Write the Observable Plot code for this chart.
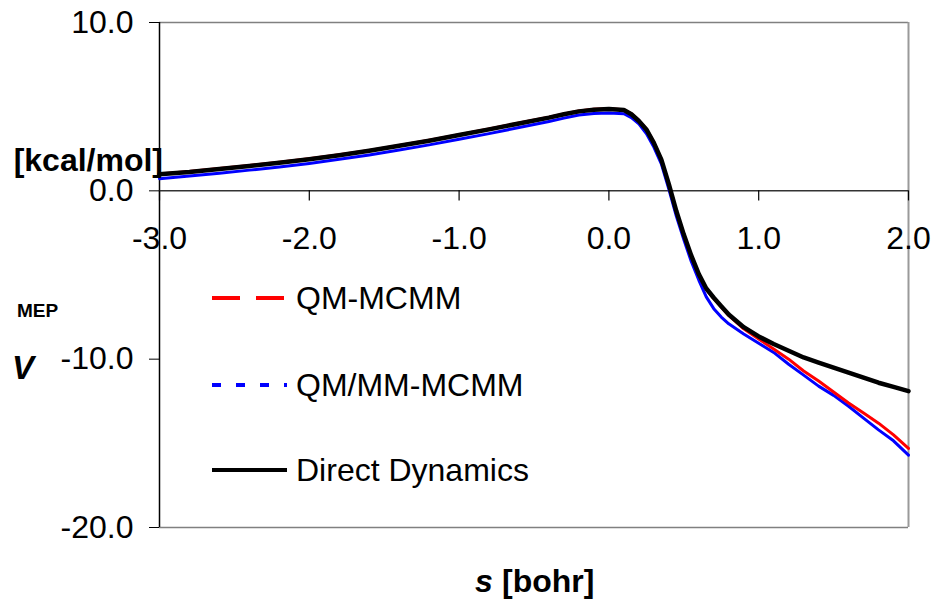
<!DOCTYPE html>
<html>
<head>
<meta charset="utf-8">
<script src="https://cdn.jsdelivr.net/npm/d3@7"></script>
<script src="https://cdn.jsdelivr.net/npm/@observablehq/plot@0.6"></script>
<style>
  html, body { margin: 0; padding: 0; background: #fff; }
  #chart { width: 935px; height: 600px; }
</style>
</head>
<body>
<div id="chart"></div>
<script>
// reaction coordinate s [bohr]
const sValues = [-3.0,-2.8,-2.6,-2.4,-2.2,-2.0,-1.8,-1.6,-1.4,-1.2,-1.0,-0.8,-0.6,-0.4,-0.3,-0.2,-0.1,0.0,0.1,0.15,0.2,0.25,0.3,0.35,0.4,0.45,0.5,0.55,0.6,0.65,0.7,0.75,0.8,0.9,1.0,1.1,1.2,1.3,1.4,1.5,1.6,1.7,1.8,1.9,2.0];
// V_MEP [kcal/mol]
const directDynamics = [0.98,1.12,1.30,1.48,1.67,1.88,2.12,2.38,2.68,2.98,3.32,3.65,4.00,4.35,4.55,4.72,4.82,4.86,4.80,4.55,4.15,3.65,2.85,1.85,0.40,-1.20,-2.60,-3.85,-4.95,-5.80,-6.35,-6.85,-7.35,-8.10,-8.65,-9.10,-9.50,-9.90,-10.20,-10.50,-10.80,-11.10,-11.40,-11.65,-11.90];
const qmMcmm = [1.00,1.15,1.32,1.50,1.70,1.90,2.15,2.40,2.70,3.01,3.34,3.67,4.03,4.37,4.57,4.74,4.84,4.87,4.82,4.58,4.18,3.68,2.88,1.85,0.38,-1.25,-2.65,-3.90,-5.00,-5.85,-6.40,-6.90,-7.40,-8.20,-8.80,-9.40,-10.00,-10.70,-11.30,-11.95,-12.60,-13.20,-13.80,-14.50,-15.30];
const qmmmMcmm = [0.72,0.88,1.05,1.23,1.42,1.63,1.87,2.13,2.43,2.73,3.07,3.40,3.76,4.12,4.32,4.50,4.60,4.63,4.58,4.35,3.98,3.40,2.60,1.60,0.10,-1.50,-2.90,-4.20,-5.30,-6.30,-7.00,-7.50,-7.90,-8.50,-9.05,-9.60,-10.30,-10.95,-11.60,-12.15,-12.80,-13.50,-14.20,-14.85,-15.70];

const xTicks = [-3, -2, -1, 0, 1, 2];
const yTicks = [-20, -10, 0, 10];

const series = [
  {name: "QM/MM-MCMM", values: qmmmMcmm, color: "#0000ff", width: 3},
  {name: "QM-MCMM", values: qmMcmm, color: "#ff0000", width: 3},
  {name: "Direct Dynamics", values: directDynamics, color: "#000000", width: 4.5}
];
const rows = series.flatMap(sr => sValues.map((s, i) => ({s, v: sr.values[i], name: sr.name})));

const font = "Liberation Sans, Arial, Helvetica, sans-serif";
const fs = 32;

const chart = Plot.plot({
  width: 935,
  height: 600,
  marginLeft: 159,
  marginRight: 27,
  marginTop: 22,
  marginBottom: 73,
  style: {fontFamily: font, fontSize: fs + "px", background: "#fff", color: "#000"},
  x: {domain: [-3, 2], axis: null},
  y: {domain: [-20, 10], axis: null},
  marks: [
    // frame
    Plot.ruleY([10, -20], {x1: -3, x2: 2, stroke: "#808080", strokeWidth: 1.5}),
    Plot.ruleX([2], {y1: -20, y2: 10, stroke: "#9a9a9a", strokeWidth: 2}),
    // y axis
    Plot.axisY({ticks: yTicks, tickSize: 10, tickPadding: 16, tickFormat: d => d.toFixed(1), fontSize: fs, label: null, stroke: "#000"}),
    Plot.ruleX([-3], {y1: -20, y2: 10, stroke: "#000", strokeWidth: 1.5}),
    // x axis at y = 0
    Plot.ruleY([0], {x1: -3, x2: 2, stroke: "#333", strokeWidth: 1.5}),
    Plot.ruleX(xTicks, {x: d => d, y1: 0, y2: -0.6, stroke: "#000", strokeWidth: 1.2}),
    Plot.text(xTicks, {x: d => d, y: 0, dy: 48, text: d => d.toFixed(1), fontSize: fs, fill: "#000"}),
    // data
    ...series.map(sr => Plot.line(rows.filter(r => r.name === sr.name), {
      x: "s", y: "v", stroke: sr.color, strokeWidth: sr.width, strokeLinejoin: "round", curve: "linear"
    }))
  ]
});

document.getElementById("chart").appendChild(chart);

// annotations and legend
const svg = d3.select(chart);
const g = svg.append("g").attr("font-family", font).attr("fill", "#000").attr("text-anchor", "start");

g.append("text").attr("x", 163).attr("y", 160).attr("text-anchor", "end")
  .attr("dominant-baseline", "central").attr("font-weight", "bold").attr("font-size", fs).text("[kcal/mol]");
g.append("text").attr("x", 17).attr("y", 317).attr("font-weight", "bold").attr("font-size", 19).text("MEP");
g.append("text").attr("x", 12).attr("y", 379).attr("font-weight", "bold").attr("font-style", "italic").attr("font-size", 33).text("V");
g.append("text").attr("x", 475).attr("y", 592).attr("font-weight", "bold").attr("font-style", "italic").attr("font-size", fs).text("s");
g.append("text").attr("x", 502).attr("y", 592).attr("font-weight", "bold").attr("font-size", fs).text("[bohr]");

const legendItems = [
  {name: "QM-MCMM", color: "#ff0000", dash: "28,16", width: 4, y: 298},
  {name: "QM/MM-MCMM", color: "#0000ff", dash: "9,15", width: 4, y: 385},
  {name: "Direct Dynamics", color: "#000000", dash: null, width: 4, y: 470}
];
legendItems.forEach(it => {
  const ln = g.append("line").attr("x1", 212).attr("x2", 287).attr("y1", it.y).attr("y2", it.y)
    .attr("stroke", it.color).attr("stroke-width", it.width);
  if (it.dash) ln.attr("stroke-dasharray", it.dash);
  g.append("text").attr("x", 296).attr("y", it.y).attr("dominant-baseline", "central")
    .attr("font-size", fs).text(it.name);
});
</script>
</body>
</html>
